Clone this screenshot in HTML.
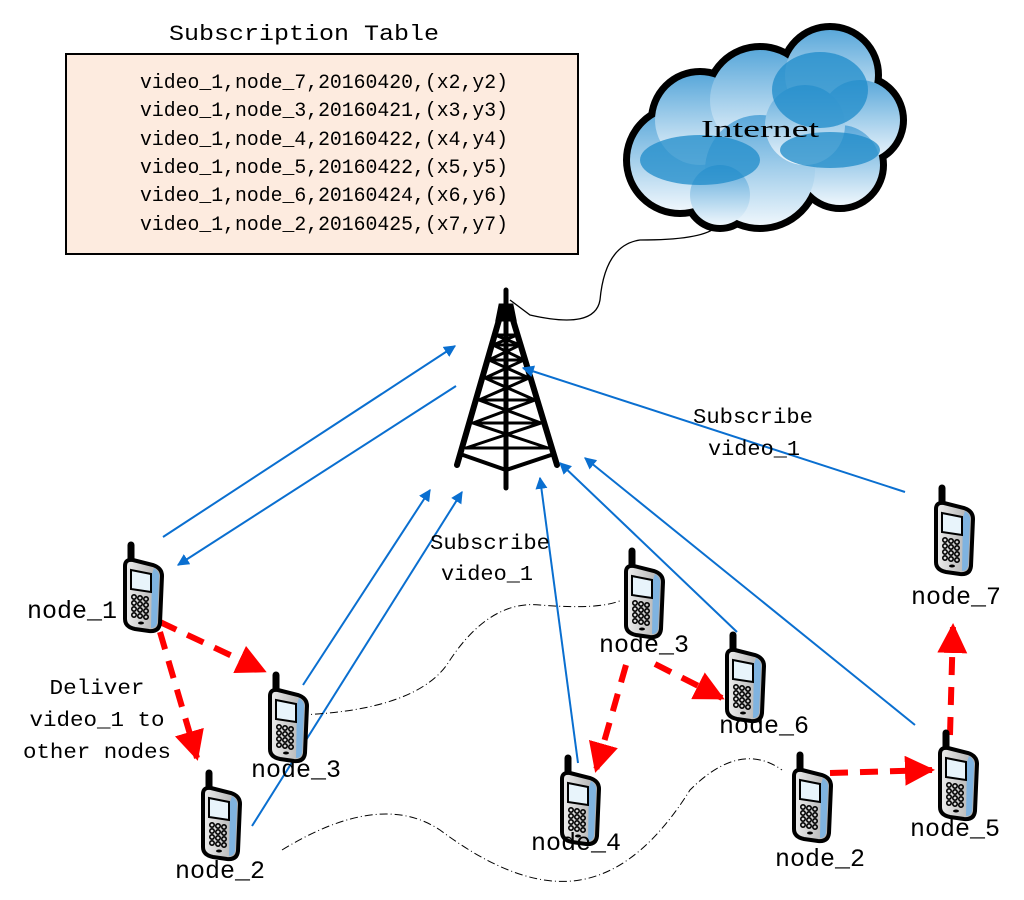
<!DOCTYPE html>
<html><head><meta charset="utf-8"><style>
html,body{margin:0;padding:0;background:#fff;}
svg{display:block;font-family:"Liberation Mono","Noto Sans CJK SC",monospace;}
</style></head><body>
<svg width="1024" height="900" viewBox="0 0 1024 900" xmlns="http://www.w3.org/2000/svg">
<defs>
<marker id="ab" viewBox="0 0 10 10" refX="9" refY="5" markerWidth="12" markerHeight="12" markerUnits="userSpaceOnUse" orient="auto"><path d="M0,0 L10,5 L0,10 Z" fill="#0a6fd0"/></marker>
<marker id="ar" viewBox="0 0 10 10" refX="9" refY="5" markerWidth="5" markerHeight="5" orient="auto"><path d="M0,0 L10,5 L0,10 Z" fill="#f00"/></marker>
<linearGradient id="cg" x1="0" y1="0" x2="0" y2="1"><stop offset="0" stop-color="#5aa8da"/><stop offset="1" stop-color="#eef6fc"/></linearGradient>
<linearGradient id="pg" x1="0" y1="0" x2="1" y2="0"><stop offset="0" stop-color="#eee"/><stop offset="1" stop-color="#aaa"/></linearGradient>
<g id="ph">
 <line x1="10" y1="3" x2="10" y2="22" stroke="#000" stroke-width="7" stroke-linecap="round"/>
 <path d="M4,24 Q4,17 12,18 L32,23 Q41,26 41,34 L39,81 Q38,90 28,89 L14,87 Q4,85 4,77 Z" fill="url(#pg)" stroke="#000" stroke-width="4"/>
 <path d="M33,26 Q39,30 38,36 L36,81 Q35,86 30,86 L31,32 Z" fill="#7fb3e0"/>
 <path d="M10,28 L30,32 L30,50 L10,47 Z" fill="#e8f4fb" stroke="#000" stroke-width="2"/>
 <g fill="none" stroke="#000" stroke-width="1.6">
  <circle cx="13" cy="55" r="2.2"/><circle cx="19" cy="56" r="2.2"/><circle cx="25" cy="57" r="2.2"/>
  <circle cx="13" cy="61" r="2.2"/><circle cx="19" cy="62" r="2.2"/><circle cx="25" cy="63" r="2.2"/>
  <circle cx="13" cy="67" r="2.2"/><circle cx="19" cy="68" r="2.2"/><circle cx="25" cy="69" r="2.2"/>
  <circle cx="13" cy="73" r="2.2"/><circle cx="19" cy="74" r="2.2"/><circle cx="25" cy="75" r="2.2"/>
 </g>
 <ellipse cx="20" cy="81" rx="3" ry="1.5" fill="#000"/>
</g>
</defs>

<!-- table -->
<text x="304" y="40" font-size="22" text-anchor="middle" textLength="270" lengthAdjust="spacingAndGlyphs">Subscription Table</text>
<rect x="66" y="54" width="512" height="200" fill="#fdebdf" stroke="#000" stroke-width="2"/>
<g font-size="20">
<text x="140" y="88" textLength="368" lengthAdjust="spacingAndGlyphs">video_1,node_7,20160420,(x2,y2)</text>
<text x="140" y="116" textLength="368" lengthAdjust="spacingAndGlyphs">video_1,node_3,20160421,(x3,y3)</text>
<text x="140" y="145" textLength="368" lengthAdjust="spacingAndGlyphs">video_1,node_4,20160422,(x4,y4)</text>
<text x="140" y="173" textLength="368" lengthAdjust="spacingAndGlyphs">video_1,node_5,20160422,(x5,y5)</text>
<text x="140" y="201" textLength="368" lengthAdjust="spacingAndGlyphs">video_1,node_6,20160424,(x6,y6)</text>
<text x="140" y="230" textLength="368" lengthAdjust="spacingAndGlyphs">video_1,node_2,20160425,(x7,y7)</text>
</g>

<!-- cloud -->
<g stroke="#000" stroke-width="14" fill="#000">
<circle cx="680" cy="160" r="50"/><circle cx="700" cy="120" r="45"/><circle cx="760" cy="100" r="50"/><circle cx="830" cy="75" r="45"/><circle cx="860" cy="120" r="40"/><circle cx="840" cy="165" r="40"/><circle cx="760" cy="170" r="55"/><circle cx="720" cy="195" r="30"/><circle cx="805" cy="125" r="40"/>
</g>
<g fill="url(#cg)">
<circle cx="680" cy="160" r="50"/><circle cx="700" cy="120" r="45"/><circle cx="760" cy="100" r="50"/><circle cx="830" cy="75" r="45"/><circle cx="860" cy="120" r="40"/><circle cx="840" cy="165" r="40"/><circle cx="760" cy="170" r="55"/><circle cx="720" cy="195" r="30"/><circle cx="805" cy="125" r="40"/>
</g>
<g fill="#1e8bc9" opacity="0.75">
<ellipse cx="700" cy="160" rx="60" ry="25"/><ellipse cx="820" cy="90" rx="48" ry="38"/><ellipse cx="830" cy="150" rx="50" ry="18"/>
</g>
<text x="760" y="137" font-size="24" text-anchor="middle" textLength="118" lengthAdjust="spacingAndGlyphs" font-family="Liberation Serif, serif">Internet</text>
<path d="M715,228 Q700,240 640,240 Q605,245 600,300 Q595,330 530,315 L510,300" fill="none" stroke="#000" stroke-width="1.3"/>

<!-- tower -->
<g stroke="#000" fill="none" stroke-linecap="round">
<line x1="506" y1="290" x2="506" y2="488" stroke-width="5"/>
<path d="M500,305 L512,305 L515,320 L497,320 Z" fill="#000" stroke-width="3"/>
<line x1="499" y1="320" x2="457" y2="465" stroke-width="6"/>
<line x1="513" y1="320" x2="557" y2="465" stroke-width="6"/>
<g stroke-width="3">
<path d="M495,335 L517,335 M493,345 L520,345 M489,360 L524,360 M485,378 L529,378 M479,400 L535,400 M473,423 L541,423 M466,448 L548,448"/>
<path d="M495,335 L520,345 L489,360 L529,378 L479,400 L541,423 L466,448"/>
<path d="M517,335 L493,345 L524,360 L485,378 L535,400 L473,423 L548,448"/>
<path d="M463,455 L506,470 L551,455" stroke-width="4"/>
</g>
</g>

<!-- blue arrows -->
<g stroke="#0a6fd0" stroke-width="2" fill="none" marker-end="url(#ab)">
<line x1="163" y1="537" x2="455" y2="346"/>
<line x1="456" y1="386" x2="178" y2="565"/>
<line x1="303" y1="685" x2="430" y2="490"/>
<line x1="252" y1="826" x2="462" y2="492"/>
<line x1="578" y1="763" x2="540" y2="478"/>
<line x1="737" y1="632" x2="560" y2="463"/>
<line x1="915" y1="725" x2="585" y2="458"/>
<line x1="905" y1="492" x2="523" y2="368"/>
</g>

<!-- dash-dot curves -->
<g stroke="#000" stroke-width="1" fill="none" stroke-dasharray="8,3,1,3">
<path d="M300,715 Q420,710 450,660 Q490,600 540,605 Q600,610 622,600"/>
<path d="M282,850 Q380,790 440,830 Q520,890 580,880 Q640,870 690,790 Q740,740 782,770"/>
</g>

<!-- red dashed -->
<g stroke="#f00" stroke-width="6" fill="none" stroke-dasharray="18,12" marker-end="url(#ar)">
<line x1="160" y1="622" x2="264" y2="671"/>
<line x1="160" y1="632" x2="197" y2="758"/>
<line x1="655" y1="664" x2="722" y2="698"/>
<line x1="626" y1="665" x2="596" y2="770"/>
<line x1="830" y1="773" x2="932" y2="770"/>
<line x1="950" y1="735" x2="953" y2="626"/>
</g>

<!-- phones -->
<use href="#ph" x="121" y="542"/>
<use href="#ph" x="266" y="672"/>
<use href="#ph" x="199" y="770"/>
<use href="#ph" x="622" y="548"/>
<use href="#ph" x="723" y="632"/>
<use href="#ph" x="558" y="755"/>
<use href="#ph" x="790" y="752"/>
<use href="#ph" x="936" y="730"/>
<use href="#ph" x="932" y="485"/>

<!-- labels -->
<g font-size="25">
<text x="72" y="618" text-anchor="middle" textLength="90" lengthAdjust="spacingAndGlyphs">node_1</text>
<text x="296" y="777" text-anchor="middle" textLength="90" lengthAdjust="spacingAndGlyphs">node_3</text>
<text x="220" y="878" text-anchor="middle" textLength="90" lengthAdjust="spacingAndGlyphs">node_2</text>
<text x="644" y="652" text-anchor="middle" textLength="90" lengthAdjust="spacingAndGlyphs">node_3</text>
<text x="764" y="733" text-anchor="middle" textLength="90" lengthAdjust="spacingAndGlyphs">node_6</text>
<text x="576" y="850" text-anchor="middle" textLength="90" lengthAdjust="spacingAndGlyphs">node_4</text>
<text x="820" y="866" text-anchor="middle" textLength="90" lengthAdjust="spacingAndGlyphs">node_2</text>
<text x="955" y="836" text-anchor="middle" textLength="90" lengthAdjust="spacingAndGlyphs">node_5</text>
<text x="956" y="604" text-anchor="middle" textLength="90" lengthAdjust="spacingAndGlyphs">node_7</text>
</g>
<g font-size="21" text-anchor="middle">
<text x="97" y="694" textLength="95" lengthAdjust="spacingAndGlyphs">Deliver</text>
<text x="97" y="726" textLength="135" lengthAdjust="spacingAndGlyphs">video_1 to</text>
<text x="97" y="758" textLength="148" lengthAdjust="spacingAndGlyphs">other nodes</text>
<text x="490" y="549" textLength="120" lengthAdjust="spacingAndGlyphs">Subscribe</text>
<text x="487" y="580" textLength="92" lengthAdjust="spacingAndGlyphs">video_1</text>
<text x="753" y="423" textLength="120" lengthAdjust="spacingAndGlyphs">Subscribe</text>
<text x="754" y="455" textLength="92" lengthAdjust="spacingAndGlyphs">video_1</text>
</g>
</svg>
</body></html>
